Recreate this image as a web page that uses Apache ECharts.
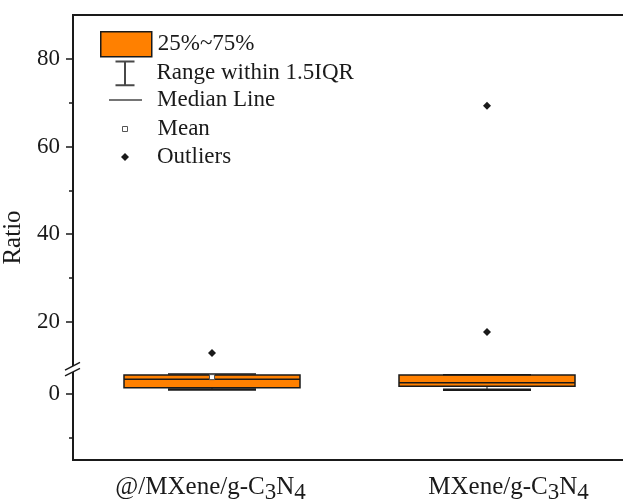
<!DOCTYPE html>
<html>
<head>
	<meta charset="utf-8" />
	<title>Ratio</title>
	<script src="https://cdn.jsdelivr.net/npm/echarts@6.0.0/dist/echarts.min.js"></script>
	<style>
		html, body { margin: 0; padding: 0; background: #fff; }
		#main { width: 623px; height: 501px; }
	</style>
</head>
<body>
	<div id="main"></div>
	<script type="text/javascript">
		// data
		var categories = ['@/MXene/g-C3N4', 'MXene/g-C3N4'];
		var whiskerLow = [1.1, 1.05];
		var q1Values = [1.5, 1.8];
		var medianValues = [3.4, 2.6];
		var q3Values = [4.4, 4.4];
		var whiskerHigh = [4.6, 4.45];
		var meanPoints = [[0, 3.9]];
		var outlierPoints = [[0, 12.9], [1, 17.7], [1, 69.3]];
		var majorTicks = [0, 20, 40, 60, 80];
		var minorTicks = [-10, 30, 50, 70];
		var breakStart = 5.5;
		var breakEnd = 9;

		var FONT = 'Liberation Serif';
		var ORANGE = '#FF8000';
		var INK = '#1a1a1a';
		var gridLeft = 73;

		var boxRows = [];
		for (var i = 0; i < categories.length; i++) {
			boxRows.push([i, whiskerLow[i], q1Values[i], medianValues[i], q3Values[i], whiskerHigh[i]]);
		}

		function renderBox(params, api) {
			var x = api.value(0);
			var pLow = api.coord([x, api.value(1)]);
			var pQ1 = api.coord([x, api.value(2)]);
			var pMed = api.coord([x, api.value(3)]);
			var pQ3 = api.coord([x, api.value(4)]);
			var pHigh = api.coord([x, api.value(5)]);
			var band = api.size([1, 0])[0];
			var w = band * 0.64;
			var cx = pMed[0] + 1.5;
			var line = { stroke: INK, lineWidth: 1.5 };
			return {
				type: 'group',
				children: [
					{ type: 'line', shape: { x1: cx, y1: pLow[1], x2: cx, y2: pQ1[1] }, style: { stroke: INK, lineWidth: 1 } },
					{ type: 'line', shape: { x1: cx, y1: pQ3[1], x2: cx, y2: pHigh[1] }, style: { stroke: INK, lineWidth: 1 } },
					{ type: 'rect', shape: { x: cx - w / 2, y: pQ3[1], width: w, height: pQ1[1] - pQ3[1] }, style: { fill: ORANGE, stroke: INK, lineWidth: 1.5 } },
					{ type: 'line', shape: { x1: cx - w / 2, y1: pMed[1], x2: cx + w / 2, y2: pMed[1] }, style: line },
					{ type: 'line', shape: { x1: cx - w / 4, y1: pLow[1], x2: cx + w / 4, y2: pLow[1] }, style: { stroke: INK, lineWidth: 2.5 } },
					{ type: 'line', shape: { x1: cx - w / 4, y1: pHigh[1], x2: cx + w / 4, y2: pHigh[1] }, style: line }
				]
			};
		}

		function catLabel(value, index) {
			var head = value.replace('C3N4', '');
			var s = index == 1 ? '{sp|}' : '';
			return s + '{t|' + head + 'C}{sub|3}{t|N}{sub|4}';
		}

		function legendItem(name, left, top, w, h, icon, style, pad) {
			return {
				left: left,
				top: top,
				orient: 'vertical',
				padding: 0,
				itemWidth: w,
				itemHeight: h,
				selectedMode: false,
				textStyle: { fontFamily: FONT, fontSize: 23, color: INK, padding: [0, 0, 0, pad], lineHeight: 25 },
				data: [{ name: name, icon: icon, itemStyle: style }]
			};
		}

		var yAxisBase = {
			type: 'value',
			min: -15,
			max: 90,
			position: 'left',
			breaks: [{ start: breakStart, end: breakEnd, gap: 0 }],
			breakArea: { show: false, itemStyle: { opacity: 0 } },
			splitLine: { show: false }
		};

		var myChart = echarts.init(document.getElementById('main'));
		var option = {
			animation: false,
			backgroundColor: '#fff',
			grid: { left: gridLeft, right: 0, top: 15, bottom: 41, containLabel: false, outerBoundsMode: 'none' },
			legend: [
				legendItem('25%~75%', 100, 31, 51, 25, 'rect', { color: ORANGE, borderColor: INK, borderWidth: 1.5 }, 1),
				legendItem('Range within 1.5IQR', 113, 59, 19, 25, 'path://M0,0L20,0M10,0L10,25M0,25L20,25', { color: 'none', borderColor: INK, borderWidth: 2 }, 17),
				legendItem('Median Line', 109, 87.5, 33, 1.5, 'rect', { color: INK, borderWidth: 0 }, 10),
				legendItem('Mean', 122, 116.5, 5, 5, 'rect', { color: '#fff', borderColor: '#555', borderWidth: 1 }, 25),
				legendItem('Outliers', 121, 144.5, 8, 8, 'diamond', { color: INK, borderWidth: 0 }, 23)
			],
			xAxis: [{
				type: 'category',
				data: categories,
				boundaryGap: true,
				axisLine: { onZero: false, lineStyle: { color: INK, width: 2 } },
				axisTick: { show: false },
				axisLabel: {
					margin: 10,
					formatter: catLabel,
					rich: {
						t: { fontFamily: FONT, fontSize: 25, color: INK },
						sub: { fontFamily: FONT, fontSize: 23, color: INK, padding: [11, 0, 0, 0] },
						sp: { width: 46 }
					}
				}
			}, {
				type: 'category',
				data: categories,
				position: 'top',
				axisLine: { onZero: false, lineStyle: { color: INK, width: 2 } },
				axisTick: { show: false },
				axisLabel: { show: false }
			}],
			yAxis: [
				Object.assign({}, yAxisBase, {
					name: 'Ratio',
					nameLocation: 'middle',
					nameGap: 12,
					nameTextStyle: { fontFamily: FONT, fontSize: 25, color: INK },
					axisLine: { show: true, lineStyle: { color: INK, width: 2 } },
					axisTick: { show: true, length: 7, customValues: majorTicks, lineStyle: { color: INK, width: 1.5 } },
					axisLabel: { margin: 13, customValues: majorTicks, fontFamily: FONT, fontSize: 23, color: INK }
				}),
				Object.assign({}, yAxisBase, {
					offset: 0,
					axisLine: { show: true, lineStyle: { color: INK, width: 2 } },
					axisTick: { show: true, length: 4, customValues: minorTicks, lineStyle: { color: INK, width: 1.5 } },
					axisLabel: { show: false }
				})
			],
			series: [{
				name: '25%~75%',
				type: 'custom',
				renderItem: renderBox,
				encode: { x: 0, y: [1, 2, 3, 4, 5] },
				data: boxRows
			}, {
				name: 'Range within 1.5IQR',
				type: 'scatter',
				data: []
			}, {
				name: 'Median Line',
				type: 'scatter',
				data: []
			}, {
				name: 'Mean',
				type: 'scatter',
				symbol: 'rect',
				symbolSize: 5,
				symbolOffset: [1.5, 0],
				itemStyle: { color: '#fff', borderColor: '#555', borderWidth: 1, opacity: 1 },
				data: meanPoints,
				z: 5
			}, {
				name: 'Outliers',
				type: 'scatter',
				symbol: 'diamond',
				symbolSize: 8,
				symbolOffset: [1.5, 0],
				itemStyle: { color: INK, opacity: 1 },
				data: outlierPoints,
				z: 5
			}]
		};
		myChart.setOption(option);

		// "//" break mark on the y axis
		var by = myChart.convertToPixel({ yAxisIndex: 0 }, breakStart) - 1;
		var bx = gridLeft;
		myChart.setOption({
			graphic: [
				{ type: 'polygon', z: 100, shape: { points: [[bx - 8, by + 1], [bx + 7, by - 6.7], [bx + 7, by - 0.7], [bx - 8, by + 6.7]] }, style: { fill: '#fff' } },
				{ type: 'line', z: 101, shape: { x1: bx - 8, y1: by + 1, x2: bx + 7, y2: by - 6.7 }, style: { stroke: INK, lineWidth: 1.5 } },
				{ type: 'line', z: 101, shape: { x1: bx - 8, y1: by + 6.7, x2: bx + 7, y2: by - 0.7 }, style: { stroke: INK, lineWidth: 1.5 } }
			]
		});
	</script>
</body>
</html>
